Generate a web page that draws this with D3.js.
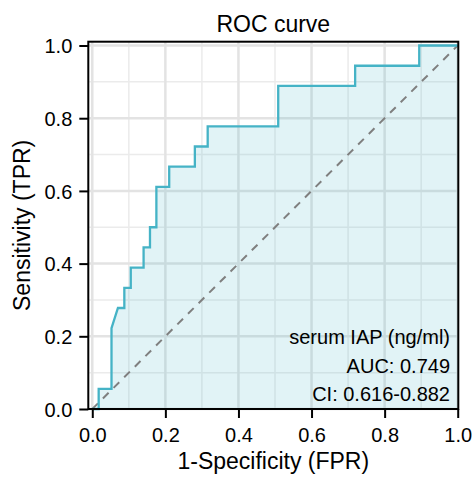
<!DOCTYPE html>
<html>
<head>
<meta charset="utf-8">
<script src="https://cdn.jsdelivr.net/npm/d3@7"></script>
<style>
  body { margin: 0; background: #fff; }
  svg text { font-family: "Liberation Sans", Arial, sans-serif; fill: #000; }
</style>
</head>
<body>
<svg id="chart" width="475" height="481"></svg>
<script>
// ROC curve points (false positive rate, true positive rate)
const fpr = [0, 0.0175, 0.0175, 0.0526, 0.0526, 0.0702, 0.0877, 0.0877, 0.1053, 0.1053,
  0.1404, 0.1404, 0.1579, 0.1579, 0.1754, 0.1754, 0.2105, 0.2105, 0.2807, 0.2807,
  0.3158, 0.3158, 0.5088, 0.5088, 0.7193, 0.7193, 0.8947, 0.8947, 1];
const tpr = [0, 0, 0.0556, 0.0556, 0.2222, 0.2778, 0.2778, 0.3333, 0.3333, 0.3889,
  0.3889, 0.4444, 0.4444, 0.5, 0.5, 0.6111, 0.6111, 0.6667, 0.6667, 0.7222,
  0.7222, 0.7778, 0.7778, 0.8889, 0.8889, 0.9444, 0.9444, 1, 1];
const tickValues = [0, 0.2, 0.4, 0.6, 0.8, 1.0];
const minorValues = [0.1, 0.3, 0.5, 0.7, 0.9];
const labels = ['serum IAP (ng/ml)', 'AUC: 0.749', 'CI: 0.616-0.882'];

const lineColor = '#45b3c6';

let svg = d3.select('#chart'),
  panel = {left: 88.3, right: 458.3, top: 41.7, bottom: 409};

let xScale = d3.scaleLinear()
  .domain([-0.0109, 1.0016])
  .range([panel.left, panel.right]);

let yScale = d3.scaleLinear()
  .domain([0, 1.0105])
  .range([panel.bottom, panel.top]);

let points = fpr.map((d, i) => ({x: d, y: tpr[i]}));

// grid, minor then major
let grid = svg.append('g').attr('class', 'grid');
minorValues.forEach((v) => {
  grid.append('line')
    .attr('x1', xScale(v)).attr('x2', xScale(v))
    .attr('y1', panel.top).attr('y2', panel.bottom)
    .attr('stroke', '#ebebeb').attr('stroke-width', 1.5);
  grid.append('line')
    .attr('x1', panel.left).attr('x2', panel.right)
    .attr('y1', yScale(v)).attr('y2', yScale(v))
    .attr('stroke', '#ebebeb').attr('stroke-width', 1.5);
});
tickValues.forEach((v) => {
  grid.append('line')
    .attr('x1', xScale(v)).attr('x2', xScale(v))
    .attr('y1', panel.top).attr('y2', panel.bottom)
    .attr('stroke', '#e3e3e3').attr('stroke-width', 2.5);
  grid.append('line')
    .attr('x1', panel.left).attr('x2', panel.right)
    .attr('y1', yScale(v)).attr('y2', yScale(v))
    .attr('stroke', '#e3e3e3').attr('stroke-width', 2.5);
});

// area under curve
svg.append('path')
  .datum(points)
  .attr('fill', lineColor)
  .attr('fill-opacity', 0.16)
  .attr('d', d3.area()
    .x((d) => xScale(d.x))
    .y0(yScale(0))
    .y1((d) => yScale(d.y)));

// chance diagonal
svg.append('line')
  .attr('x1', xScale(0)).attr('y1', yScale(0))
  .attr('x2', xScale(1)).attr('y2', yScale(1))
  .attr('stroke', '#7f7f7f')
  .attr('stroke-width', 2)
  .attr('stroke-dasharray', '8,7');

// ROC line
svg.append('path')
  .datum(points)
  .attr('fill', 'none')
  .attr('stroke', lineColor)
  .attr('stroke-width', 2.3)
  .attr('d', d3.line()
    .x((d) => xScale(d.x))
    .y((d) => yScale(d.y)));

// panel border
svg.append('rect')
  .attr('x', panel.left).attr('y', panel.top)
  .attr('width', panel.right - panel.left)
  .attr('height', panel.bottom - panel.top)
  .attr('fill', 'none')
  .attr('stroke', '#000')
  .attr('stroke-width', 2);

// axes
let xAxis = svg.append('g')
  .attr('transform', 'translate(0,' + panel.bottom + ')')
  .call(d3.axisBottom(xScale).tickValues(tickValues).tickFormat(d3.format('.1f'))
    .tickSize(9).tickPadding(10));
let yAxis = svg.append('g')
  .attr('transform', 'translate(' + panel.left + ',0)')
  .call(d3.axisLeft(yScale).tickValues(tickValues).tickFormat(d3.format('.1f'))
    .tickSize(9).tickPadding(7));

[xAxis, yAxis].forEach((ax) => {
  ax.select('.domain').remove();
  ax.selectAll('.tick line').attr('stroke', '#000').attr('stroke-width', 2);
  ax.selectAll('.tick text')
    .attr('fill', '#000')
    .style('font-size', '20px')
    .style('font-family', '"Liberation Sans", Arial, sans-serif');
});
xAxis.selectAll('.tick text').attr('dy', '0.71em');
yAxis.selectAll('.tick text').attr('dy', '0.36em');

// titles
svg.append('text')
  .attr('x', (panel.left + panel.right) / 2)
  .attr('y', 31.5)
  .attr('text-anchor', 'middle')
  .style('font-size', '23px')
  .text('ROC curve');

svg.append('text')
  .attr('x', (panel.left + panel.right) / 2)
  .attr('y', 469)
  .attr('text-anchor', 'middle')
  .style('font-size', '23px')
  .text('1-Specificity (FPR)');

svg.append('text')
  .attr('transform', 'translate(29.5,' + ((panel.top + panel.bottom) / 2) + ') rotate(-90)')
  .attr('text-anchor', 'middle')
  .style('font-size', '23px')
  .text('Sensitivity (TPR)');

// annotation
svg.append('g')
  .selectAll('text')
  .data(labels)
  .enter().append('text')
  .attr('x', 450)
  .attr('y', (d, i) => 344 + i * 28.5)
  .attr('text-anchor', 'end')
  .style('font-size', '20px')
  .text((d) => d);
</script>
</body>
</html>
